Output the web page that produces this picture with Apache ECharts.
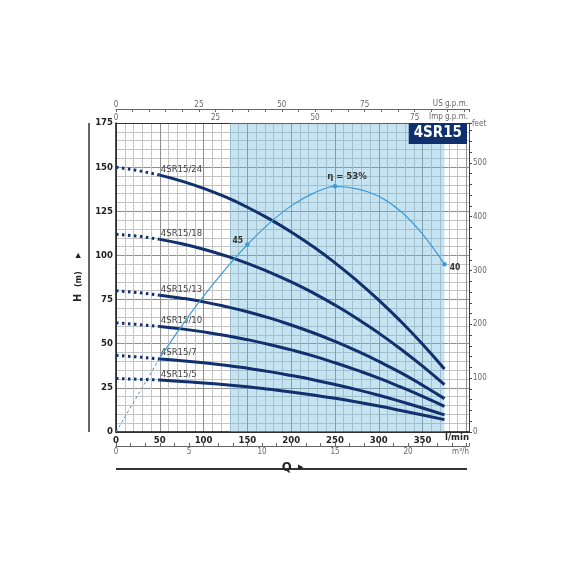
<!DOCTYPE html>
<html><head><meta charset="utf-8">
<script src="https://cdn.jsdelivr.net/npm/echarts@6/dist/echarts.min.js"></script>
<style>html,body{margin:0;padding:0;background:#fff}#c{width:570px;height:570px}</style>
</head><body><div id="c"></div>
<script>
// ---- data ----
const flow = [0, 25, 50, 75, 100, 125, 150, 175, 200, 225, 250, 275, 300, 325, 350, 375]; // l/min
const modelNames = ['4SR15/24', '4SR15/18', '4SR15/13', '4SR15/10', '4SR15/7', '4SR15/5'];
const head24 = [150, 148.1, 145.5, 142.1, 138.0, 133.1, 127.3, 120.7, 113.3, 105.0, 95.8, 85.7, 74.7, 62.7, 49.7, 35.7];
const head18 = [112, 111.0, 109.1, 106.6, 103.5, 99.8, 95.5, 90.5, 85.0, 78.8, 71.9, 64.3, 56.0, 47.0, 37.3, 26.8];
const head13 = [80, 79.0, 77.5, 75.8, 73.7, 71.1, 68.1, 64.6, 60.6, 56.2, 51.3, 45.9, 40.0, 33.6, 26.5, 18.9];
const head10 = [61.8, 60.9, 59.8, 58.4, 56.7, 54.7, 52.3, 49.6, 46.5, 43.1, 39.2, 35.0, 30.5, 25.5, 20.2, 14.5];
const head7 = [43.4, 42.5, 41.4, 40.4, 39.2, 37.8, 36.1, 34.2, 32.0, 29.6, 26.9, 24.0, 20.8, 17.3, 13.6, 9.7];
const head5 = [30.3, 29.9, 29.4, 28.6, 27.8, 26.8, 25.6, 24.2, 22.7, 21.0, 19.1, 17.0, 14.7, 12.2, 9.6, 7.0];
const efficiency = [0, 8.9, 17.8, 25.5, 32.6, 39.1, 45.0, 50.1, 54.3, 57.3, 59.0, 58.4, 56.6, 53.0, 47.5, 40.3]; // chart scale
const effMarkFlow = [150, 250, 375];
const effMarkValue = [45, 59, 40.3];
const effMarkText = ['45', '{a|η = }{b|53%}', '40'];
const bestRange = [130, 375];
const dottedUntil = 50;
const Q_MAX = 403, H_MAX = 175, EFF_MAX = 74.2;

const FONT = "'Liberation Sans Narrow','DejaVu Sans Condensed','Liberation Sans',sans-serif";
const NAVY = '#10306e', EFF = '#3c9ad6';
const SPLIT = ['#8e8e8e', '#c4c4c4', '#c4c4c4', '#c4c4c4', '#c4c4c4'];

const heads = [head24, head18, head13, head10, head7, head5];
const series = [];
const cut = flow.indexOf(dottedUntil);
heads.forEach((h, i) => {
  const pts = flow.map((q, k) => [q, h[k]]);
  series.push({
    type: 'line', data: pts.slice(0, cut + 1), symbol: 'none', silent: true, z: 4,
    lineStyle: { color: NAVY, width: 3, type: [2.5, 3.5], cap: 'butt' }
  });
  series.push({
    type: 'line', data: pts.slice(cut), smooth: 0.5, symbol: 'none', silent: true, z: 5,
    lineStyle: { color: NAVY, width: 3 },
    markPoint: {
      silent: true, symbol: 'circle', symbolSize: 0.01, itemStyle: { color: 'rgba(0,0,0,0)' },
      data: [{ coord: pts[cut] }],
      label: { show: true, position: 'top', distance: 1, align: 'left', offset: [1, 0],
        formatter: modelNames[i], color: '#444', fontSize: 9.5, fontFamily: FONT }
    }
  });
});
const effPts = flow.map((q, k) => [q, efficiency[k]]);
series.push({
  type: 'line', data: effPts.slice(0, cut + 1), yAxisIndex: 2, symbol: 'none', silent: true, z: 3,
  lineStyle: { color: EFF, width: 1, type: [3, 2.5] },
  markArea: { silent: true, itemStyle: { color: 'rgba(110,185,217,0.4)' },
    data: [[{ xAxis: bestRange[0] }, { xAxis: bestRange[1] }]] }
});
const effLabelPos = [
  { position: 'left', offset: [1, -4] },
  { position: 'top', offset: [12, 0] },
  { position: 'right', offset: [0, 4] }
];
series.push({
  type: 'line', data: effPts.slice(cut), yAxisIndex: 2, smooth: 0.35, symbol: 'none', silent: true, z: 6,
  lineStyle: { color: EFF, width: 1.2 },
  markPoint: {
    silent: true, symbol: 'circle', symbolSize: 4.5, itemStyle: { color: EFF },
    data: effMarkFlow.map((q, k) => ({
      coord: [q, effMarkValue[k]],
      label: Object.assign({ show: true, formatter: effMarkText[k], distance: 3, color: '#333',
        fontSize: 8.5, fontWeight: 'bold', fontFamily: FONT,
        rich: { a: { fontSize: 9.5, color: '#333', fontFamily: FONT },
                b: { fontSize: 9.5, color: '#333', fontWeight: 'bold', fontFamily: FONT } } }, effLabelPos[k])
    }))
  }
});

const smallLbl = { fontSize: 8, color: '#666', fontFamily: FONT };
const option = {
  animation: false,
  title: { text: '4SR15', right: 103, top: 123, backgroundColor: '#0f2f6e', padding: [3, 5, 3, 5],
    textStyle: { color: '#fff', fontWeight: 'bold', fontSize: 15, fontFamily: FONT } },
  grid: { left: 116, right: 101, top: 123, bottom: 138 },
  xAxis: [
    { type: 'value', position: 'bottom', min: 0, max: Q_MAX, interval: 10,
      axisLine: { show: true, onZero: false, lineStyle: { color: '#111', width: 1.5 } },
      axisTick: { show: false },
      axisLabel: { formatter: v => (v % 50 === 0 && v <= 350) ? String(v) : '', fontWeight: 'bold',
        fontSize: 9.5, color: '#222', margin: 4, fontFamily: FONT },
      splitLine: { show: true, lineStyle: { color: SPLIT, width: 1 } } },
    { type: 'value', position: 'bottom', offset: 14, min: 0, max: Q_MAX * 0.06, interval: 1,
      axisLine: { show: true, onZero: false, lineStyle: { color: '#666', width: 1 } },
      axisTick: { show: true, inside: true, length: 3, lineStyle: { color: '#666' } },
      axisLabel: Object.assign({ formatter: v => (v % 5 === 0 && v <= 20) ? String(v) : '', margin: 2 }, smallLbl),
      splitLine: { show: false },
      name: '{q|Q}  {ar|▶}', nameLocation: 'middle', nameGap: 10,
      nameTextStyle: { rich: { q: { fontSize: 13, fontWeight: 'bold', color: '#222', fontFamily: FONT },
                               ar: { fontSize: 7, color: '#222' } } } },
    { type: 'value', position: 'top', offset: 14, min: 0, max: Q_MAX / 3.785411784, interval: 5,
      axisLine: { show: true, onZero: false, lineStyle: { color: '#666', width: 1 } },
      axisTick: { show: true, inside: true, length: 3, lineStyle: { color: '#666' } },
      axisLabel: Object.assign({ formatter: v => (v % 25 === 0 && v <= 75) ? String(v) : '', margin: 0 }, smallLbl),
      splitLine: { show: false } },
    { type: 'value', position: 'top', offset: 0, min: 0, max: Q_MAX / 4.54609, interval: 5,
      axisLine: { show: true, onZero: false, lineStyle: { color: '#333', width: 1 } },
      axisTick: { show: false },
      axisLabel: Object.assign({ formatter: v => (v % 25 === 0 && v <= 75) ? String(v) : '', margin: 1 }, smallLbl),
      splitLine: { show: false } }
  ],
  yAxis: [
    { type: 'value', position: 'left', min: 0, max: H_MAX, interval: 5,
      axisLine: { show: true, onZero: false, lineStyle: { color: '#111', width: 1.5 } },
      axisTick: { show: false },
      axisLabel: { formatter: v => (v % 25 === 0) ? String(v) : '', fontWeight: 'bold', fontSize: 9.5,
        color: '#222', margin: 3, fontFamily: FONT },
      splitLine: { show: true, lineStyle: { color: SPLIT, width: 1 } },
      name: '{h|H}  {m|(m)}    {ar|▶}', nameLocation: 'middle', nameRotate: 90, nameGap: 19,
      nameTextStyle: { rich: { h: { fontSize: 11, fontWeight: 'bold', color: '#222', fontFamily: FONT },
                               m: { fontSize: 9, fontWeight: 'bold', color: '#222', fontFamily: FONT },
                               ar: { fontSize: 7, color: '#222' } } } },
    { type: 'value', position: 'right', min: 0, max: H_MAX / 0.3048, interval: 20,
      axisLine: { show: true, onZero: false, lineStyle: { color: '#444', width: 1 } },
      axisTick: { show: true, length: 3, lineStyle: { color: '#444' } },
      axisLabel: Object.assign({ formatter: v => (v % 100 === 0) ? String(v) : '', margin: 4 }, smallLbl),
      splitLine: { show: false } },
    { type: 'value', min: 0, max: EFF_MAX, show: false }
  ],
  graphic: [
    { type: 'text', x: 469, y: 438, style: { text: 'l/min', align: 'right', verticalAlign: 'middle',
      font: "bold 9.5px " + FONT, fill: '#222' } },
    { type: 'text', x: 469, y: 452, style: { text: 'm³/h', align: 'right', verticalAlign: 'middle', font: "8px " + FONT, fill: '#666' } },
    { type: 'text', x: 468, y: 104, style: { text: 'US g.p.m.', align: 'right', verticalAlign: 'middle', font: "8px " + FONT, fill: '#666' } },
    { type: 'text', x: 468, y: 117, style: { text: 'Imp g.p.m.', align: 'right', verticalAlign: 'middle', font: "8px " + FONT, fill: '#666' } },
    { type: 'text', x: 472, y: 124, style: { text: 'feet', align: 'left', verticalAlign: 'middle', font: "8px " + FONT, fill: '#666' } },
    { type: 'line', shape: { x1: 116, y1: 469, x2: 467, y2: 469 }, style: { stroke: '#333', lineWidth: 2 } },
    { type: 'line', shape: { x1: 89, y1: 123, x2: 89, y2: 432 }, style: { stroke: '#333', lineWidth: 1.5 } }
  ],
  series: series
};
const chart = echarts.init(document.getElementById('c'), null, { renderer: 'canvas' });
chart.setOption(option);
</script></body></html>
